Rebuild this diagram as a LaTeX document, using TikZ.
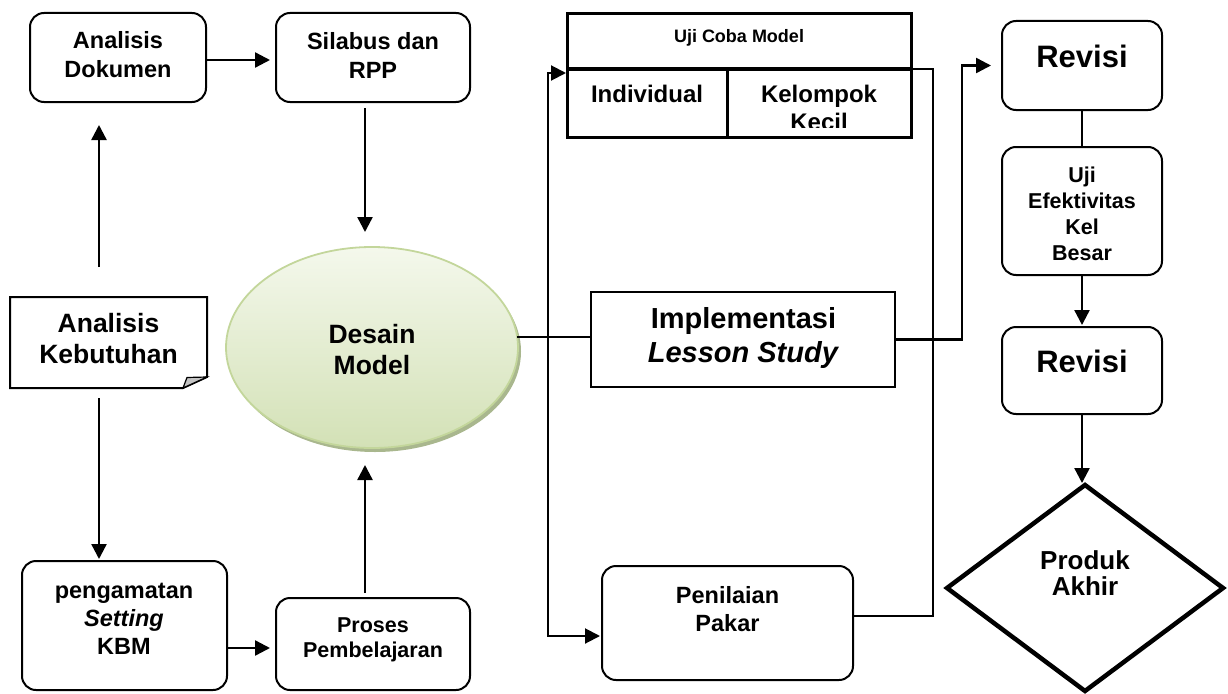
\documentclass[tikz,border=0pt]{standalone}
\usepackage{fontspec}
\setmainfont{Liberation Sans}
\usetikzlibrary{arrows.meta,shapes.geometric,calc}

\definecolor{ellTop}{HTML}{F4F8EC}
\definecolor{ellBot}{HTML}{D3E1B6}
\definecolor{ellLine}{HTML}{C3D69B}
\definecolor{ellShadow}{HTML}{A9B78E}
\definecolor{foldGray}{HTML}{C4C4C4}

\newcommand{\fs}[2]{\fontsize{#1}{#2}\selectfont\bfseries}

\begin{document}
\begin{tikzpicture}[x=1pt,y=-1pt,
  every node/.style={inner sep=0pt, outer sep=0pt},
  rbox/.style={draw, rounded corners=14pt, line width=2pt},
  sbox/.style={draw, line width=2.4pt},
  cell/.style={draw, line width=3pt},
  txt/.style={align=center},
  conn/.style={line width=2.4pt, -{Triangle[length=15pt,width=15pt]}},
  link/.style={line width=2pt},
]
\useasboundingbox (0,0) rectangle (1228,693);

% helper coordinates
\coordinate (xa) at (99,0);
\coordinate (xs) at (365,0);
\coordinate (xj) at (548,0);
\coordinate (xr) at (933,0);
\coordinate (xv) at (962,0);
\coordinate (ya) at (0,60);
\coordinate (yp) at (0,648);
\coordinate (yb) at (0,73);
\coordinate (yc) at (0,636);
\coordinate (yr) at (0,616);

% ---------- boxes ----------
\node[rbox, minimum width=176pt, minimum height=89pt] (dok) at (118,57.5) {};
\node[rbox, minimum width=194pt, minimum height=89pt] (sil) at (373,57.5) {};
\node[minimum width=197pt, minimum height=91pt] (keb) at (108.5,342.5) {};
\draw[line width=2pt] (keb.north west) -- (keb.north east)
  -- ($(keb.south east)+(0,-11)$) -- ($(keb.south east)+(-24,0)$)
  -- (keb.south west) -- cycle;
\filldraw[fill=foldGray, line width=1.2pt] ($(keb.south east)+(0,-11)$)
  -- ($(keb.south east)+(-20,-10.5)$) -- ($(keb.south east)+(-24,0)$) -- cycle;

\node[ellipse, fill=ellShadow, minimum width=292pt, minimum height=201pt] (dmshadow) at (375,351.5) {};
\node[ellipse, draw=ellLine, line width=1.8pt, top color=ellTop, bottom color=ellBot,
      minimum width=292pt, minimum height=201pt] (dm) at (372,347.5) {};

\node[rbox, minimum width=205pt, minimum height=129pt] (peng) at (124.5,625.5) {};
\node[rbox, minimum width=194pt, minimum height=92pt] (pro) at (373,644) {};

\node[cell, minimum width=344pt, minimum height=55pt] (uctitle) at (739,41.5) {};
\node[cell, minimum width=160pt, minimum height=68pt] (ucind) at (647,103) {};
\node[cell, minimum width=184pt, minimum height=68pt] (uckel) at (819,103) {};

\node[sbox, minimum width=304pt, minimum height=95pt] (impl) at (743,339.5) {};
\node[rbox, minimum width=251pt, minimum height=114pt] (pen) at (727.5,623) {};

\node[rbox, minimum width=160pt, minimum height=89pt] (rev1) at (1082,65.5) {};
\node[rbox, minimum width=160pt, minimum height=128pt] (efk) at (1082,211) {};
\node[rbox, minimum width=160pt, minimum height=87pt] (rev2) at (1082,370.5) {};
\node[diamond, draw, line width=4.5pt, minimum width=276pt, minimum height=206pt] (prod) at (1085,588) {};

% ---------- texts ----------
\node[txt, font=\fs{23.5}{29}] (t-dok) at (118,55) {Analisis\\Dokumen};
\node[txt, font=\fs{23.5}{29}] (t-sil) at (373,55) {Silabus dan\\RPP};
\node[txt, font=\fs{26.5}{31}] (t-keb) at (108.5,338.5) {Analisis\\Kebutuhan};
\node[txt, font=\fs{26.5}{31}] (t-dm) at (372,350) {Desain\\Model};
\node[txt, font=\fs{23.5}{28}] (t-peng) at (124,619) {pengamatan\\\textit{Setting}\\KBM};
\node[txt, font=\fs{21.5}{25}] (t-pro) at (373,640) {Proses\\Pembelajaran};
\node[txt, font=\fs{18}{22}] (t-uct) at (739,38) {Uji Coba Model};
\node[txt, font=\fs{24}{28}] (t-ind) at (647,93.5) {Individual};
\begin{scope}
  \clip (727,69) rectangle (911,127);
  \node[txt, font=\fs{24}{28}] (t-kel) at (819,107.5) {Kelompok\\Kecil};
\end{scope}
\node[txt, font=\fs{29}{34}] (t-impl) at (743.5,338) {Implementasi\\\textit{Lesson Study}};
\node[txt, font=\fs{23.5}{28}] (t-pen) at (727.5,609.5) {Penilaian\\Pakar};
\node[txt, font=\fs{31}{36}] (t-rev1) at (1082,56) {Revisi};
\node[txt, font=\fs{21.5}{26}] (t-efk) at (1082,213.5) {Uji\\Efektivitas\\Kel\\Besar};
\node[txt, font=\fs{31}{36}] (t-rev2) at (1082,361) {Revisi};
\node[txt, font=\fs{26}{26}] (t-prod) at (1085,573.5) {Produk\\Akhir};

% ---------- connectors ----------
\draw[conn, shorten <=30pt, shorten >=23pt] (keb.north -| xa) -- (dok.south -| xa);
\draw[conn, shorten <=10pt, shorten >=2pt] (keb.south -| xa) -- (peng.north -| xa);
\draw[conn, shorten >=6pt] (dok.east |- ya) -- (sil.west |- ya);
\draw[conn, shorten <=6pt, shorten >=15pt] (sil.south -| xs) -- (dm.north -| xs);
\draw[conn, shorten >=6pt] (peng.east |- yp) -- (pro.west |- yp);
\draw[conn, shorten <=5pt, shorten >=17pt] (pro.north -| xs) -- (dm.south -| xs);

\draw[link] (dm.4) -- (dm.4 -| impl.west);
\draw[conn, line width=2pt, shorten >=1pt] (dm.4 -| xj) |- (ucind.west |- yb);
\draw[conn, line width=2pt, shorten >=2pt] (dm.4 -| xj) |- (pen.west |- yc);

\draw[link] (uctitle.south east) -- (uctitle.south east -| xr) -- (xr |- yr) -- (pen.east |- yr);

\draw[conn, shorten >=11pt] (impl.east) -| (rev1.west -| xv) -- (rev1.west);
\draw[link] (rev1.south) -- (efk.north);
\draw[conn, shorten >=2pt] (efk.south) -- (rev2.north);
\draw[conn, shorten >=2pt] (rev2.south) -- (rev2.south |- prod.north);
\end{tikzpicture}
\end{document}
